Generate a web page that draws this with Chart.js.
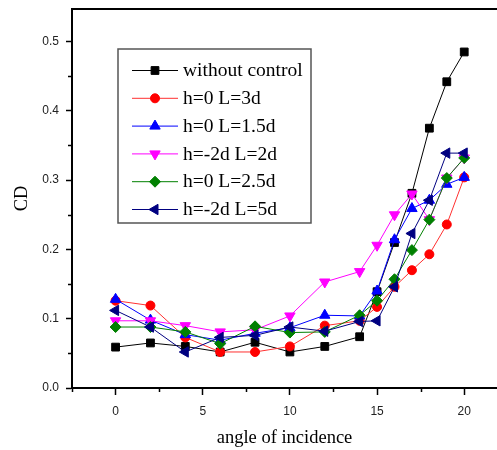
<!DOCTYPE html>
<html>
<head>
<meta charset="utf-8">
<script src="https://cdn.jsdelivr.net/npm/chart.js@4/dist/chart.umd.min.js"></script>
<style>
    html, body { margin: 0; padding: 0; background: #fff; }
    #wrap { width: 497px; height: 450px; }
</style>
</head>
<body>
<div id="wrap"><canvas id="cdChart" width="497" height="450"></canvas></div>
<script>
// data
const angles = [0, 2, 4, 6, 8, 10, 12, 14, 15, 16, 17, 18, 19, 20];

const withoutControl = [0.059, 0.065, 0.060, 0.052, 0.066, 0.052, 0.060, 0.074, 0.139, 0.210, 0.281, 0.375, 0.442, 0.485];
const h0L3d   = [0.126, 0.119, 0.073, 0.052, 0.052, 0.060, 0.090, 0.097, 0.117, 0.146, 0.170, 0.193, 0.236, 0.304];
const h0L15d  = [0.128, 0.098, 0.077, 0.069, 0.079, 0.087, 0.105, 0.104, 0.140, 0.214, 0.259, 0.271, 0.294, 0.304];
const hm2L2d  = [0.097, 0.097, 0.090, 0.081, 0.084, 0.104, 0.153, 0.168, 0.206, 0.250, 0.280, 0.243, 0.303, 0.332];
const h0L25d  = [0.088, 0.088, 0.081, 0.064, 0.089, 0.080, 0.081, 0.105, 0.126, 0.157, 0.199, 0.243, 0.303, 0.332];
const hm2L5d  = [0.112, 0.088, 0.052, 0.073, 0.076, 0.088, 0.082, 0.096, 0.097, 0.146, 0.223, 0.271, 0.339, 0.339];

const seriesLabels = ['without control', 'h=0 L=3d', 'h=0 L=1.5d', 'h=-2d L=2d', 'h=0 L=2.5d', 'h=-2d L=5d'];

const xTicks = [0, 5, 10, 15, 20];
const xMinorTicks = [-2.5, 2.5, 7.5, 12.5, 17.5];
const yTicks = [0, 0.1, 0.2, 0.3, 0.4, 0.5];
const yMinorTicks = [0.05, 0.15, 0.25, 0.35, 0.45];

// marker styles per series
const styles = [
    { line: '#000000', fill: '#000000', pointStyle: 'rect', radius: 5.5, rotation: 0 },
    { line: '#ff3030', fill: '#ff0000', pointStyle: 'circle', radius: 4.5, rotation: 0 },
    { line: '#0000ff', fill: '#0000ff', pointStyle: 'triangle', radius: 6, rotation: 0 },
    { line: '#ff00ff', fill: '#ff00ff', pointStyle: 'triangle', radius: 6, rotation: 180 },
    { line: '#008000', fill: '#008000', pointStyle: 'rectRot', radius: 5.5, rotation: 0 },
    { line: '#000080', fill: '#000080', pointStyle: 'triangle', radius: 6, rotation: -90 }
];

const seriesValues = [withoutControl, h0L3d, h0L15d, hm2L2d, h0L25d, hm2L5d];

const datasets = seriesValues.map((vals, i) => ({
    label: seriesLabels[i],
    data: angles.map((a, k) => ({ x: a, y: vals[k] })),
    borderColor: styles[i].line,
    backgroundColor: styles[i].fill,
    pointBackgroundColor: styles[i].fill,
    pointBorderColor: styles[i].fill,
    pointStyle: styles[i].pointStyle,
    pointRadius: styles[i].radius,
    pointRotation: styles[i].rotation,
    pointBorderWidth: 1,
    borderWidth: 1,
    tension: 0,
    order: seriesValues.length - i
}));

function drawMarker(ctx, st, x, y) {
    ctx.save();
    ctx.fillStyle = st.fill;
    ctx.strokeStyle = st.fill;
    ctx.lineWidth = 1;
    Chart.helpers.drawPoint(ctx, { pointStyle: st.pointStyle, radius: st.radius, rotation: st.rotation, borderWidth: 1 }, x, y);
    ctx.restore();
}

function noEdgePadding(scale) {
    scale.paddingLeft = 0;
    scale.paddingRight = 0;
    scale.paddingTop = 0;
    scale.paddingBottom = 0;
}

// frame top line, minor ticks and the in-plot legend
const extras = {
    id: 'extras',
    afterDraw(chart) {
        const ctx = chart.ctx;
        const area = chart.chartArea;
        const xs = chart.scales.x;
        const ys = chart.scales.y;

        ctx.save();
        ctx.strokeStyle = '#000';
        ctx.lineWidth = 2;
        ctx.beginPath();
        ctx.moveTo(area.left - 1, area.top);
        ctx.lineTo(area.right, area.top);
        ctx.stroke();

        ctx.lineWidth = 1.5;
        ctx.beginPath();
        xMinorTicks.forEach(v => {
            const px = Math.round(xs.getPixelForValue(v)) + 0.5;
            ctx.moveTo(px, area.bottom);
            ctx.lineTo(px, area.bottom + 4);
        });
        yMinorTicks.forEach(v => {
            const py = Math.round(ys.getPixelForValue(v)) + 0.5;
            ctx.moveTo(area.left, py);
            ctx.lineTo(area.left - 4, py);
        });
        ctx.stroke();

        // legend box
        const bx = 118, by = 49, bw = 193, bh = 174;
        ctx.strokeStyle = '#555';
        ctx.lineWidth = 1.5;
        ctx.fillStyle = '#fff';
        ctx.fillRect(bx, by, bw, bh);
        ctx.strokeRect(bx, by, bw, bh);

        ctx.font = '19.5px "Liberation Serif", "Times New Roman", serif';
        ctx.textBaseline = 'middle';
        ctx.textAlign = 'left';
        seriesLabels.forEach((label, i) => {
            const y = 70 + i * 27.8;
            ctx.strokeStyle = styles[i].line;
            ctx.lineWidth = 1;
            ctx.beginPath();
            ctx.moveTo(132, y + 0.5);
            ctx.lineTo(178, y + 0.5);
            ctx.stroke();
            drawMarker(ctx, styles[i], 155, y + 0.5);
            ctx.fillStyle = '#000';
            ctx.fillText(label, 183, y + 1);
        });
        ctx.restore();
    }
};

new Chart(document.getElementById('cdChart').getContext('2d'), {
    type: 'line',
    data: { datasets: datasets },
    options: {
        responsive: false,
        animation: false,
        layout: { autoPadding: false, padding: { top: 9, right: 0, left: 0, bottom: 0 } },
        plugins: {
            legend: { display: false },
            tooltip: { enabled: false }
        },
        scales: {
            x: {
                type: 'linear',
                min: -2.5,
                max: 21.88,
                afterBuildTicks(scale) {
                    scale.ticks = xTicks.map(v => ({ value: v }));
                },
                afterFit(scale) {
                    scale.height = 62;
                    noEdgePadding(scale);
                },
                grid: { display: true, drawOnChartArea: false, drawTicks: true, tickLength: 7, tickWidth: 1.5, tickColor: '#000' },
                border: { display: true, color: '#000', width: 2 },
                ticks: {
                    padding: 9,
                    color: '#222',
                    font: { family: '"Liberation Sans", Arial, sans-serif', size: 12 },
                    maxRotation: 0,
                    callback: v => String(v)
                },
                title: {
                    display: true,
                    text: 'angle of incidence',
                    color: '#000',
                    font: { family: '"Liberation Serif", "Times New Roman", serif', size: 18.5 },
                    padding: { top: 0, bottom: 1 }
                }
            },
            y: {
                type: 'linear',
                min: 0,
                max: 0.547,
                afterBuildTicks(scale) {
                    scale.ticks = yTicks.map(v => ({ value: v }));
                },
                afterFit(scale) {
                    scale.width = 72;
                    noEdgePadding(scale);
                },
                grid: { display: true, drawOnChartArea: false, drawTicks: true, tickLength: 6, tickWidth: 1.5, tickColor: '#000' },
                border: { display: true, color: '#000', width: 2 },
                ticks: {
                    padding: 7,
                    color: '#222',
                    font: { family: '"Liberation Sans", Arial, sans-serif', size: 12 },
                    callback: v => Number(v).toFixed(1)
                },
                title: {
                    display: true,
                    text: 'CD',
                    color: '#000',
                    font: { family: '"Liberation Serif", "Times New Roman", serif', size: 18.5 },
                    padding: { top: 11, bottom: 0 }
                }
            }
        }
    },
    plugins: [extras]
});
</script>
</body>
</html>
